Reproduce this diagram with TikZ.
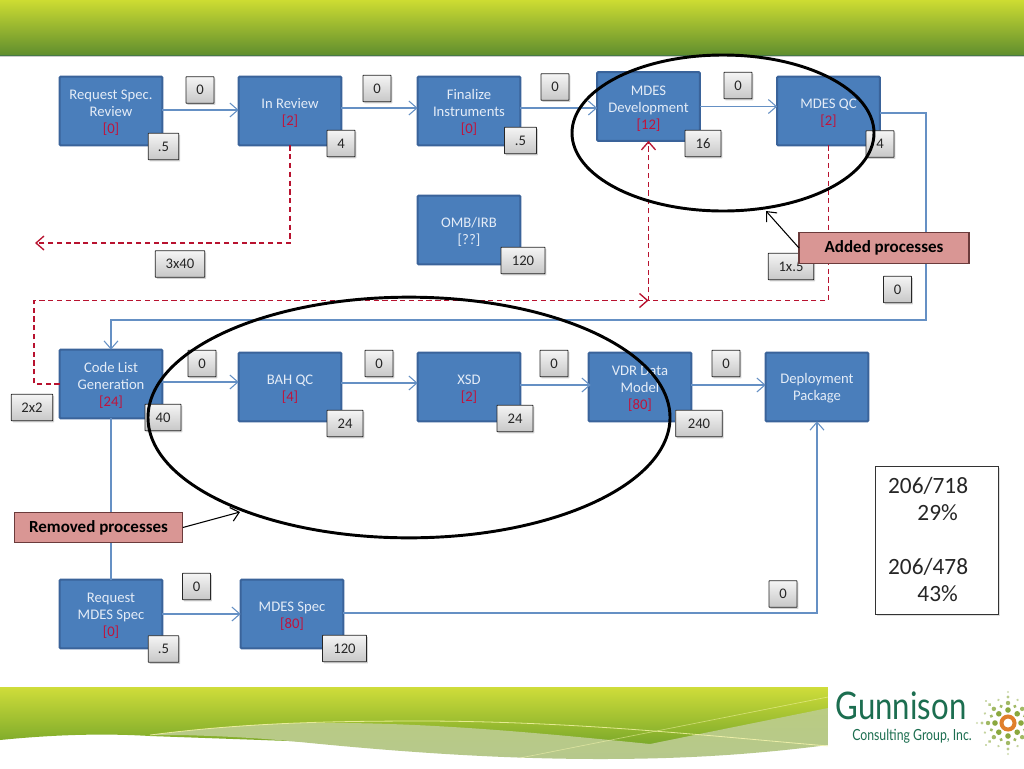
\documentclass[tikz,border=0pt]{standalone}
\usepackage{fontspec}
\setmainfont{Carlito}
\newfontfamily\logofont{Lato}
\usetikzlibrary{arrows.meta,shapes.geometric,shadows}
\definecolor{procfill}{HTML}{4A7EBB}
\definecolor{procedge}{HTML}{3A639A}
\definecolor{proctext}{HTML}{E4ECF7}
\definecolor{costred}{HTML}{C0143C}
\definecolor{flowblue}{HTML}{6590C4}
\definecolor{loopred}{HTML}{B8122F}
\definecolor{calloutfill}{HTML}{D99694}
\definecolor{calloutedge}{HTML}{6B3B3B}
\definecolor{logogreen}{HTML}{1C6E50}
\definecolor{logolight}{HTML}{8AA83E}
\definecolor{logoorange}{HTML}{E07F2B}
\tikzset{
  x=0.75pt,y=-0.75pt,
  proc/.style={draw=procedge,line width=1.6pt,rounded corners=0.8pt,fill=procfill,text=proctext,minimum width=77pt,minimum height=51.5pt,inner sep=0pt,outer sep=0pt,align=center,font=\fontsize{11}{12.75}\selectfont},
  tag/.style={draw=black!85,line width=0.6pt,rounded corners=0.4pt,top color=white!96!black,bottom color=black!22,minimum height=20pt,minimum width=21pt,inner sep=0pt,outer sep=0pt,font=\fontsize{11}{12.8}\selectfont,text=black!85,drop shadow={shadow xshift=1pt,shadow yshift=-1.2pt,opacity=.35}},
  flow/.style={draw=flowblue,line width=0.8pt,-{Straight Barb[length=6pt,width=10.5pt]}},
  flowplain/.style={draw=flowblue,line width=0.8pt},
  loop/.style={draw=loopred,line width=1pt,dash pattern=on 4pt off 2.6pt,-{Straight Barb[length=6pt,width=10.5pt]}},
  ring/.style={ellipse,draw=black,line width=2.2pt,inner sep=0pt,outer sep=0pt},
  callout/.style={draw=calloutedge,line width=0.8pt,fill=calloutfill,inner sep=0pt,outer sep=0pt,minimum height=23pt,font=\fontsize{12.75}{15}\selectfont\bfseries,text=black},
  pointer/.style={draw=black,line width=0.8pt,-{Straight Barb[length=6pt,width=10.5pt]}},
}
\newcommand{\cost}[1]{\textcolor{costred}{[#1]}}
\newcommand{\lift}{\rule{0pt}{10pt}}
\begin{document}
\begin{tikzpicture}
\useasboundingbox (0,0) rectangle (1024,768);
\fill[white] (0,0) rectangle (1024,768);
% header
\shade[top color={rgb,255:red,205;green,220;blue,50},middle color={rgb,255:red,145;green,180;blue,62},bottom color={rgb,255:red,96;green,142;blue,46}] (0,0) rectangle (1024,55);
\fill[black!55!green!45!gray] (0,54.5) rectangle (1024,56);
\fill[black!20] (0,56) rectangle (1024,57);
% footer
\shade[top color={rgb,255:red,207;green,221;blue,58},bottom color={rgb,255:red,122;green,168;blue,42}] (0,687) -- (828,687) -- (828,745) -- (400,745) -- (150,736) .. controls (100,733) and (50,735) .. (0,740) -- cycle;
\shade[top color={rgb,255:red,186;green,204;blue,130},bottom color={rgb,255:red,182;green,200;blue,140}] (150,735) .. controls (230,725) and (290,722) .. (345,723) .. controls (450,724) and (560,735) .. (650,744) -- (828,708) -- (828,745) .. controls (750,755) and (680,759) .. (600,759) .. controls (500,759) and (400,752) .. (300,742) .. controls (260,738) and (220,736) .. (180,735) -- cycle;
\draw[white!70!yellow,line width=0.6pt,draw opacity=.75] (150,735) .. controls (250,722) and (340,721) .. (430,721) .. controls (580,722) and (700,735) .. (828,746);
\draw[white!70!yellow,line width=0.5pt,draw opacity=.5] (520,758) -- (828,697);
% processes
\node[proc] (reqspec) at (111,111) {\lift Request Spec.\\Review\\\cost{0}};
\node[proc] (inreview) at (290,111) {\lift In Review\\\cost{2}};
\node[proc] (finalize) at (469,111) {\lift Finalize\\Instruments\\\cost{0}};
\node[proc] (mdesdev) at (648.5,106.5) {\lift MDES\\Development\\\cost{12}};
\node[proc] (mdesqc) at (828.5,111) {\lift MDES QC\\\cost{2}};
\node[proc] (omb) at (469,230) {\lift OMB/IRB\\{[??]}};
\node[proc] (codelist) at (111,384) {\lift Code List\\Generation\\\cost{24}};
\node[proc] (bahqc) at (290,387) {\lift BAH QC\\\cost{4}};
\node[proc] (xsd) at (469,387) {\lift XSD\\\cost{2}};
\node[proc] (vdr) at (640,387) {\lift VDR Data\\Model\\\cost{80}};
\node[proc] (deploy) at (817,387) {\lift Deployment\\Package};
\node[proc] (reqmdes) at (111,614) {\lift Request\\MDES Spec\\\cost{0}};
\node[proc] (mdesspec) at (292,614) {\lift MDES Spec\\\cost{80}};
% bends and arrow rows
\coordinate (rowA) at (0,110);
\coordinate (rowB) at (0,108);
\coordinate (rowC) at (0,382);
\coordinate (rowD) at (0,383);
\coordinate (rowE) at (0,385);
\coordinate (qcA) at (926,113);
\coordinate (qcB) at (926,320);
\coordinate (qcC) at (111,320);
\coordinate (revA) at (290,243);
\coordinate (revEnd) at (35,243);
\coordinate (qcD) at (828.5,300.5);
\coordinate (junction) at (648.5,300.5);
\coordinate (clA) at (34,384);
\coordinate (clB) at (34,300.5);
\coordinate (specA) at (817,613);
% flows
\draw[flow] (reqspec.east |- rowA) -- (inreview.west |- rowA);
\draw[flow] (inreview.east |- rowB) -- (finalize.west |- rowB);
\draw[flow] (finalize.east |- rowB) -- (mdesdev.west |- rowB);
\draw[flow] (mdesdev.east) -- (mdesdev.east -| mdesqc.west);
\draw[flow] (mdesqc.east |- qcA) -- (qcA) -- (qcB) -- (qcC) -- (codelist.north);
\draw[flow] (codelist.east |- rowC) -- (bahqc.west |- rowC);
\draw[flow] (bahqc.east |- rowD) -- (xsd.west |- rowD);
\draw[flow] (xsd.east |- rowE) -- ([xshift=1.5pt]vdr.west |- rowE);
\draw[flow] (vdr.east |- rowE) -- (deploy.west |- rowE);
\draw[flowplain] (codelist.south) -- (reqmdes.north);
\draw[flow] (reqmdes.east) -- (mdesspec.west);
\draw[flow] (mdesspec.east |- specA) -- (specA) -- (deploy.south);
\draw[loop] (inreview.south) -- (revA) -- (revEnd);
\draw[loop] (mdesqc.south) -- (qcD) -- (junction) -- (mdesdev.south);
\draw[loop] (codelist.west) -- (clA) -- (clB) -- (junction);
% tags
\node[tag,minimum width=23pt] (t1) at (163.5,146.5) {.5};
\node[tag] (t2) at (200,90) {0};
\node[tag] (t3) at (341,143.5) {4};
\node[tag] (t4) at (377,88.5) {0};
\node[tag,minimum width=24pt] (t5) at (520.5,140.5) {.5};
\node[tag] (t6) at (555,87) {0};
\node[tag,minimum width=27pt] (t7) at (703,143.5) {16};
\node[tag] (t8) at (738,85.5) {0};
\node[tag] (t9) at (880,144) {4};
\node[tag,minimum width=33pt] (t10) at (523,260.5) {120};
\node[tag,minimum width=37pt] (t11) at (180,264) {3x40};
\node[tag,minimum width=34pt] (t12) at (791,266.5) {1x.5};
\node[tag] (t13) at (897.5,289.5) {0};
\node[tag,minimum width=31pt] (t14) at (32,407.5) {2x2};
\node[tag,minimum width=27pt] (t15) at (163,417.5) {40};
\node[tag] (t16) at (202,363.5) {0};
\node[tag,minimum width=27pt] (t17) at (345,423.5) {24};
\node[tag] (t18) at (379,363.5) {0};
\node[tag,minimum width=27pt] (t19) at (515,418.5) {24};
\node[tag] (t20) at (554,363.5) {0};
\node[tag,minimum width=35pt] (t21) at (699,423.5) {240};
\node[tag] (t22) at (726,363.5) {0};
\node[tag] (t23) at (196.5,586.5) {0};
\node[tag,minimum width=23pt] (t24) at (163.5,649) {.5};
\node[tag,minimum width=33pt] (t25) at (344.5,648.5) {120};
\node[tag] (t26) at (783,594) {0};
% rings
\node[ring,minimum width=226.5pt,minimum height=117pt] (addedring) at (723,133) {};
\node[ring,minimum width=391.5pt,minimum height=180.5pt] (removedring) at (409,417.5) {};
% callouts
\node[callout,minimum width=127.5pt] (added) at (884,248) {Added processes};
\node[callout,minimum width=126.5pt] (removed) at (98.5,527.5) {Removed processes};
\coordinate (addedEnd) at (766,211);
\coordinate (removedEnd) at (240,512);
\draw[pointer] (added.west) -- (addedEnd);
\draw[pointer] (removed.east) -- (removedEnd);
% totals
\node[draw=black!80,line width=0.7pt,fill=white,anchor=north west,text width=73.25pt,inner xsep=9.5pt,inner ysep=8pt,align=left,font=\fontsize{17.5}{20.25}\selectfont,text=black!85,drop shadow={shadow xshift=1pt,shadow yshift=-1.5pt,opacity=.25},text height=12pt,text depth=83pt] (totals) at (875,466) {206/718\\\hspace*{22pt}29\%\\[20.25pt]206/478\\\hspace*{22pt}43\%};
% logo
\node[inner sep=0pt,text=logogreen,xscale=.82,font=\logofont\fontsize{28.5}{28.5}\selectfont] (logoname) at (901,706) {Gunnison};
\node[inner sep=0pt,text=logogreen,xscale=.8,font=\logofont\fontsize{11.5}{11.5}\selectfont] (logosub) at (912,736) {Consulting Group, Inc.};
\begin{scope}[shift={(1008,723)}]
\foreach \a in {0,45,...,315}{
  \fill[logolight,rotate=\a] (13,0) circle (2.8);
  \fill[logolight!80,rotate=\a] (20,0) circle (2.2);
  \fill[logolight!60,rotate=\a] (26,0) circle (1.6);
  \fill[logolight!40,rotate=\a] (31,0) circle (1.2);
}
\foreach \a in {22.5,67.5,...,337.5}{
  \fill[logolight!80,rotate=\a] (18,0) circle (1.8);
  \fill[logolight!50,rotate=\a] (25,0) circle (1.3);
}
\draw[logoorange,line width=3pt] (0,0) circle (6.5);
\end{scope}
\end{tikzpicture}
\end{document}
